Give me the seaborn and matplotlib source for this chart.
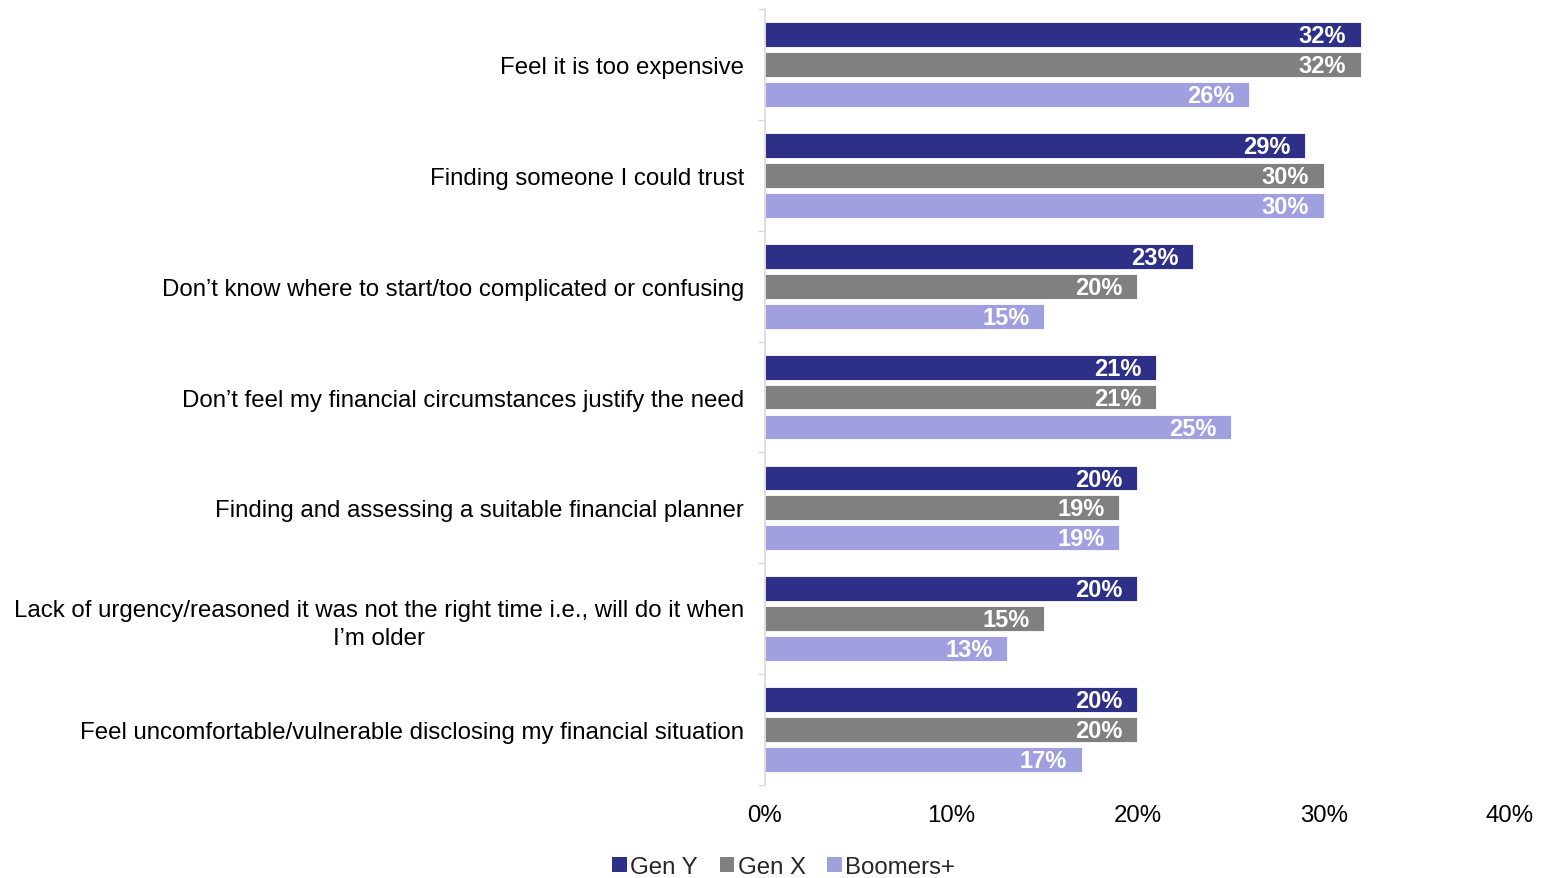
import matplotlib
matplotlib.use("Agg")
import matplotlib.pyplot as plt
from matplotlib.patches import Patch
from matplotlib.ticker import FixedLocator, PercentFormatter
import seaborn as sns
import pandas as pd

# Survey data: barriers to seeking financial advice, by generation (%)
reasons = [
    "Feel it is too expensive",
    "Finding someone I could trust",
    "Don’t know where to start/too complicated or confusing",
    "Don’t feel my financial circumstances justify the need",
    "Finding and assessing a suitable financial planner",
    "Lack of urgency/reasoned it was not the right time i.e., will do it when\nI’m older",
    "Feel uncomfortable/vulnerable disclosing my financial situation",
]
generations = ["Gen Y", "Gen X", "Boomers+"]
gen_y = [32, 29, 23, 21, 20, 20, 20]
gen_x = [32, 30, 20, 21, 19, 15, 20]
boomers = [26, 30, 15, 25, 19, 13, 17]
x_ticks = [0, 10, 20, 30, 40]

colors = ["#2E3087", "#808080", "#A09FDF"]

df = pd.DataFrame({
    "reason": reasons * 3,
    "generation": [g for g in generations for _ in reasons],
    "value": gen_y + gen_x + boomers,
})

sns.set_theme(style="white")
plt.rcParams["font.family"] = ["Liberation Sans", "DejaVu Sans"]

fig = plt.figure(figsize=(15.46, 8.79), dpi=100)
ax = fig.add_axes([0.4948, 0.1058, 0.4819, 0.8828])

sns.barplot(
    data=df, y="reason", x="value", hue="generation", hue_order=generations,
    order=reasons, palette=colors, orient="h", width=0.81, gap=0.17,
    saturation=1, edgecolor="white", linewidth=0.6, legend=False, ax=ax,
)

# Value labels, right-aligned inside the end of each bar
for container in ax.containers:
    for patch, val in zip(container.patches, container.datavalues):
        ax.annotate(
            f"{val:.0f}%",
            xy=(val, patch.get_y() + patch.get_height() / 2),
            xytext=(-10.5, -0.8), textcoords="offset points",
            ha="right", va="center", color="white",
            fontsize=17, fontweight="bold",
        )

ax.set_xlim(0, 40)
ax.set_ylim(len(reasons) - 0.5, -0.5)
ax.set_xticks(x_ticks)
ax.xaxis.set_major_formatter(PercentFormatter(decimals=0))
ax.set_xlabel("")
ax.set_ylabel("")

# Category labels in the middle, tick marks at the group boundaries
ax.yaxis.set_minor_locator(FixedLocator([i - 0.5 for i in range(len(reasons) + 1)]))
ax.tick_params(axis="y", which="major", length=0, pad=15, labelsize=17.3, labelcolor="black")
ax.tick_params(axis="y", which="minor", length=5, width=1, color="#D9D9D9", left=True)
ax.tick_params(axis="x", length=0, pad=14, labelsize=17.3, labelcolor="black")
for lbl in ax.get_yticklabels():
    lbl.set_multialignment("center")
    lbl.set_linespacing(1.32)

for side in ["top", "right", "bottom"]:
    ax.spines[side].set_visible(False)
ax.spines["left"].set_color("#D9D9D9")
ax.spines["left"].set_linewidth(1.2)
ax.grid(False)

handles = [Patch(facecolor=c, edgecolor="none", label=g) for c, g in zip(colors, generations)]
fig.legend(
    handles=handles, loc="center", bbox_to_anchor=(0.507, 0.0125), ncol=3,
    frameon=False, fontsize=17.3, handlelength=0.6, handleheight=0.6,
    handletextpad=0.15, columnspacing=0.9, borderaxespad=0,
)

fig.savefig("out.png", dpi=100, facecolor="white")
